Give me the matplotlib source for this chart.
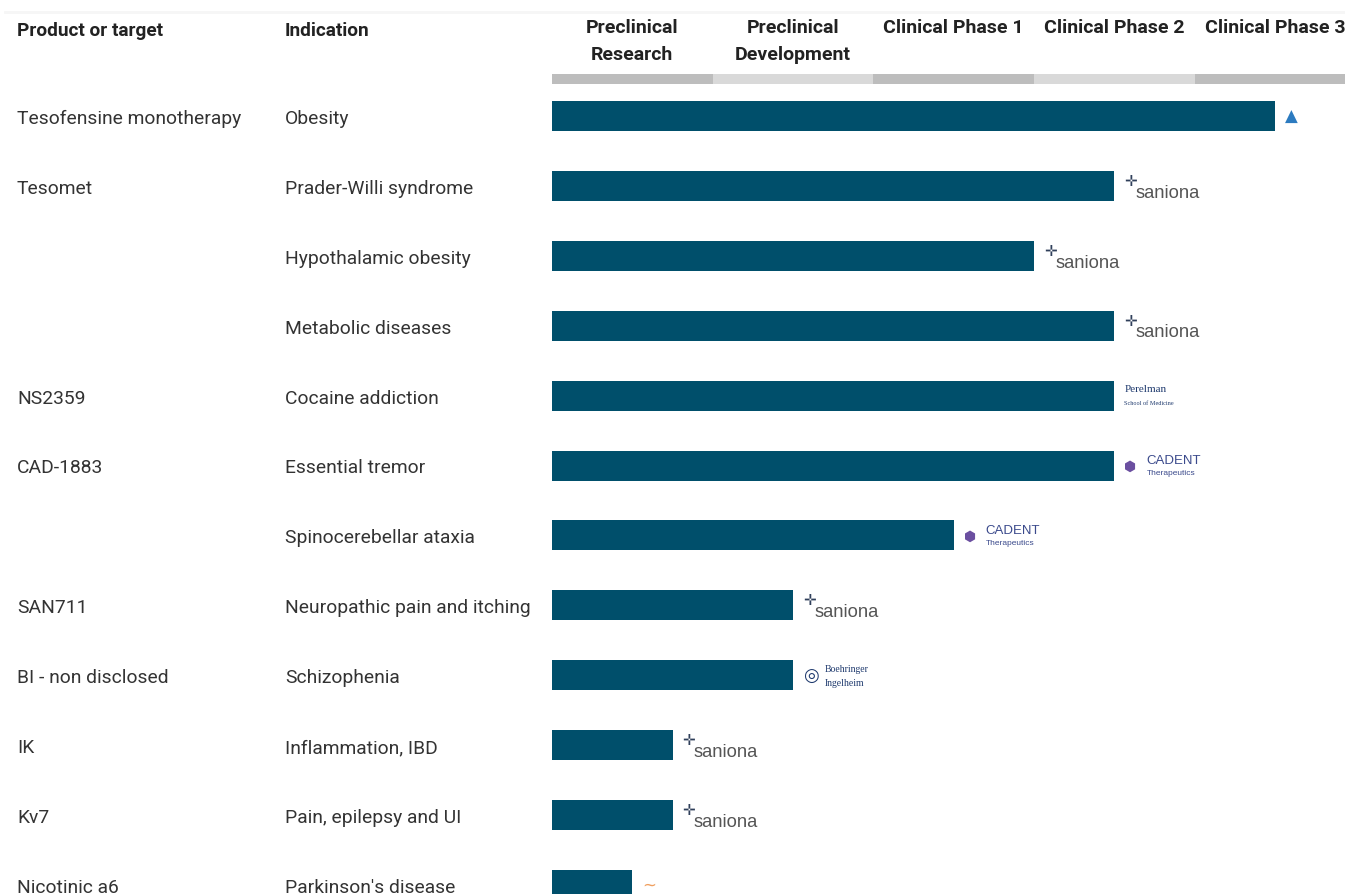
import matplotlib
matplotlib.use("Agg")
import matplotlib.pyplot as plt
from matplotlib.transforms import blended_transform_factory

# ---------------- data ----------------
products = ["Tesofensine monotherapy", "Tesomet", "", "", "NS2359", "CAD-1883", "",
            "SAN711", "BI - non disclosed", "IK", "Kv7", "Nicotinic a6"]
indications = ["Obesity", "Prader-Willi syndrome", "Hypothalamic obesity", "Metabolic diseases",
               "Cocaine addiction", "Essential tremor", "Spinocerebellar ataxia",
               "Neuropathic pain and itching", "Schizophenia", "Inflammation, IBD",
               "Pain, epilepsy and UI", "Parkinson's disease"]
progress = [4.5, 3.5, 3.0, 3.5, 3.5, 3.5, 2.5, 1.5, 1.5, 0.75, 0.75, 0.5]
partners = ["medix", "saniona", "saniona", "saniona", "perelman", "cadent", "cadent",
            "saniona", "boehringer", "saniona", "saniona", "mjff"]
phase_labels = [["Preclinical", "Research"], ["Preclinical", "Development"],
                ["Clinical Phase 1"], ["Clinical Phase 2"], ["Clinical Phase 3"]]

# ---------------- layout ----------------
W, H = 1345, 895
PX0, UNIT = 552, 160.7      # phase 0 starts at px 552, one phase = 160.7 px
ROW0, ROWH = 117, 69.9      # first row centre, row spacing (px)

def py(p):                  # pixel y -> row units
    return (p - ROW0) / ROWH

BAR = "#004F6B"
FONT = ["Roboto", "DejaVu Sans"]
COND = ["Liberation Sans Narrow", "Roboto", "DejaVu Sans"]
TXT_DY = 2 / ROWH

fig = plt.figure(figsize=(W / 100, H / 100), dpi=100)
ax = fig.add_axes([0, 0, 1, 1])
ax.set_xlim(-PX0 / UNIT, (W - PX0) / UNIT)
ax.set_ylim(py(H), py(0))
ax.axis("off")

tr = blended_transform_factory(ax.transAxes, ax.transData)

# faint top line
ax.plot([5 / W, 1], [py(13), py(13)], transform=tr, color="#F6F6F6", lw=2)

# column headers
ax.text(17 / W, py(31), "Product or target", transform=tr, fontfamily=FONT,
        fontweight="bold", fontsize=13.7, color="#222222", va="center", ha="left")
ax.text(285 / W, py(31), "Indication", transform=tr, fontfamily=FONT,
        fontweight="bold", fontsize=13.7, color="#222222", va="center", ha="left")

# phase headers and strip
strip_colors = ["#BDBDBD", "#D9D9D9"]
ax.barh([py(80)] * len(phase_labels), [1] * len(phase_labels),
        left=list(range(len(phase_labels))), height=10 / ROWH,
        color=[strip_colors[i % 2] for i in range(len(phase_labels))], linewidth=0)
for i, lines in enumerate(phase_labels):
    for j, line in enumerate(lines):
        ax.text(i + 0.5, py(28 + 27 * j), line, fontfamily=COND, fontweight="bold",
                fontsize=14, color="#222222", ha="center", va="center")

# rows
rows = list(range(len(indications)))
ax.barh(rows, progress, left=0, height=30 / ROWH, color=BAR, linewidth=0)
for i in rows:
    if products[i]:
        ax.text(17 / W, i + TXT_DY, products[i], transform=tr, fontfamily=FONT, fontsize=13.9,
                color="#333333", va="center", ha="left")
    ax.text(285 / W, i + TXT_DY, indications[i], transform=tr, fontfamily=FONT, fontsize=13.9,
            color="#333333", va="center", ha="left")

# partner marks (text stand-ins for logos)
for i, (p, name) in enumerate(zip(progress, partners)):
    x = p + 10 / UNIT
    if name == "saniona":
        ax.text(x, i - 0.08, "\u271B", fontfamily=["DejaVu Sans"], fontsize=11,
                color="#2F3F5A", ha="left", va="center")
        ax.text(x + 11 / UNIT, i + 0.09, "saniona", fontfamily=["Liberation Sans", "DejaVu Sans"],
                fontsize=13.2, color="#555555", ha="left", va="center")
    elif name == "medix":
        ax.text(x, i, "\u25B2", fontfamily=["DejaVu Sans"], fontsize=12,
                color="#2C7BC0", ha="left", va="center")
    elif name == "perelman":
        ax.text(x, i - 0.1, "Perelman", fontfamily=["Liberation Serif", "DejaVu Serif"],
                fontsize=8, color="#1F3A6E", ha="left", va="center")
        ax.text(x, i + 0.1, "School of Medicine", fontfamily=["Liberation Serif", "DejaVu Serif"],
                fontsize=4.5, color="#1F3A6E", ha="left", va="center")
    elif name == "cadent":
        ax.text(x, i, "\u2B22", fontfamily=["DejaVu Sans"], fontsize=10,
                color="#6B4FA0", ha="left", va="center")
        ax.text(x + 22 / UNIT, i - 0.08, "CADENT", fontfamily=["Liberation Sans", "DejaVu Sans"],
                fontsize=9.5, color="#3B4A8C", ha="left", va="center")
        ax.text(x + 22 / UNIT, i + 0.1, "Therapeutics", fontfamily=["Liberation Sans", "DejaVu Sans"],
                fontsize=6, color="#3B4A8C", ha="left", va="center")
    elif name == "boehringer":
        ax.text(x, i, "\u25CE", fontfamily=["DejaVu Sans"], fontsize=13,
                color="#1F3A6E", ha="left", va="center")
        ax.text(x + 22 / UNIT, i - 0.09, "Boehringer", fontfamily=["Liberation Serif", "DejaVu Serif"],
                fontsize=7, color="#1F3A6E", ha="left", va="center")
        ax.text(x + 22 / UNIT, i + 0.1, "Ingelheim", fontfamily=["Liberation Serif", "DejaVu Serif"],
                fontsize=7, color="#1F3A6E", ha="left", va="center")
    elif name == "mjff":
        ax.text(x, i, "~", fontfamily=["DejaVu Sans"], fontsize=12,
                color="#F0A060", ha="left", va="center")

fig.savefig("out.png", dpi=100)
